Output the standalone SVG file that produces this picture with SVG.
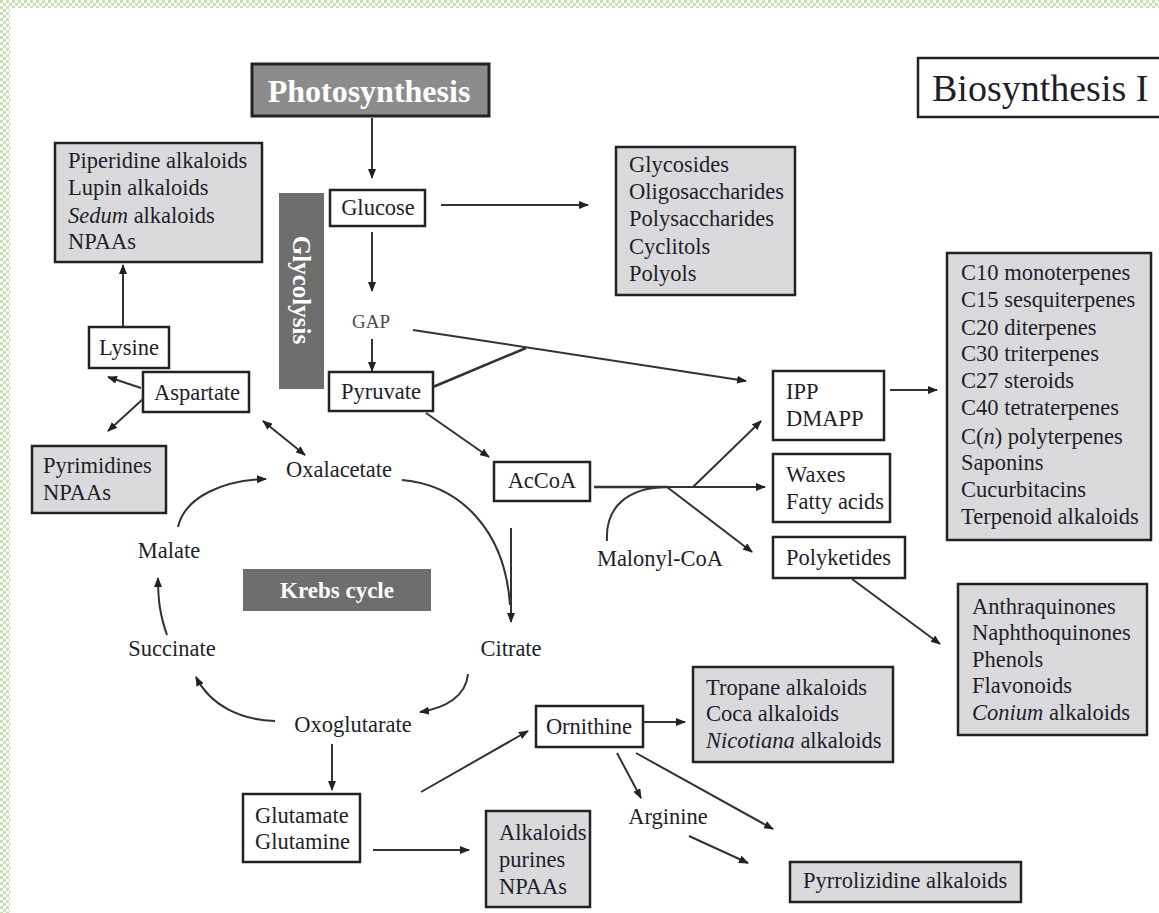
<svg xmlns="http://www.w3.org/2000/svg" width="1159" height="913" viewBox="0 0 1159 913">
<defs>
<pattern id="chk" width="6" height="6" patternUnits="userSpaceOnUse">
<rect width="6" height="6" fill="#ffffff"/>
<rect width="3" height="3" fill="#c8e2b3"/>
<rect x="3" y="3" width="3" height="3" fill="#c8e2b3"/>
</pattern>
<marker id="ah" viewBox="0 0 10 8" refX="9" refY="4" markerWidth="10" markerHeight="8" markerUnits="userSpaceOnUse" orient="auto">
<path d="M0,0 L10,4 L0,8 z" fill="#222"/>
</marker>
<marker id="as" viewBox="0 0 10 8" refX="1" refY="4" markerWidth="10" markerHeight="8" markerUnits="userSpaceOnUse" orient="auto">
<path d="M10,0 L0,4 L10,8 z" fill="#222"/>
</marker>
</defs>
<style>
.t{font-family:"Liberation Serif","Times New Roman",serif;font-size:22.5px;fill:#1e1e2a}
.s{font-family:"Liberation Serif","Times New Roman",serif;font-size:19px;fill:#4a4a5a}
.wb{font-family:"Liberation Serif","Times New Roman",serif;font-weight:bold;fill:#ffffff}
.g{fill:#dadadd;stroke:#222;stroke-width:2.5}
.w{fill:#ffffff;stroke:#222;stroke-width:2.5}
.d{fill:#6e6e6e}
.c line,.c path,.c polyline{stroke:#333;stroke-width:2;fill:none}
.a{marker-end:url(#ah)}
.i{font-style:italic}
</style>
<rect width="1159" height="913" fill="#ffffff"/>
<rect x="0" y="0" width="1159" height="8" fill="url(#chk)"/>
<rect x="0" y="0" width="10" height="913" fill="url(#chk)"/>

<g id="photosynthesis">
<rect x="252" y="64" width="237" height="52" fill="#8c8c8c" stroke="#222" stroke-width="3"/>
<text class="wb" x="369" y="102" font-size="32" text-anchor="middle">Photosynthesis</text>
</g>
<g id="biosynthesis">
<rect x="918" y="58" width="250" height="59" fill="#fff" stroke="#222" stroke-width="2.5"/>
<text class="t" x="932" y="101" style="font-size:38px">Biosynthesis I</text>
</g>
<g id="piperidine">
<rect class="g" x="55" y="143" width="207" height="119"/>
<text class="t" x="68" y="168">Piperidine alkaloids</text>
<text class="t" x="68" y="195">Lupin alkaloids</text>
<text class="t" x="68" y="223"><tspan class="i">Sedum</tspan> alkaloids</text>
<text class="t" x="68" y="249">NPAAs</text>
</g>
<g id="glycolysis">
<rect class="d" x="279" y="193" width="45" height="196"/>
<text class="wb" font-size="25" text-anchor="middle" transform="translate(293,290) rotate(90)">Glycolysis</text>
</g>
<g id="glucose">
<rect class="w" x="330" y="190" width="95" height="36"/>
<text class="t" x="378" y="215" text-anchor="middle">Glucose</text>
</g>
<g id="glycosides">
<rect class="g" x="616" y="147" width="179" height="148"/>
<text class="t" x="629" y="172">Glycosides</text>
<text class="t" x="629" y="199">Oligosaccharides</text>
<text class="t" x="629" y="226">Polysaccharides</text>
<text class="t" x="629" y="254">Cyclitols</text>
<text class="t" x="629" y="281">Polyols</text>
</g>
<g id="gap">
<text class="s" x="371" y="328" text-anchor="middle">GAP</text>
</g>
<g id="pyruvate">
<rect class="w" x="329" y="372" width="104" height="39"/>
<text class="t" x="381" y="399" text-anchor="middle">Pyruvate</text>
</g>
<g id="lysine">
<rect class="w" x="89" y="327" width="80" height="41"/>
<text class="t" x="129" y="355" text-anchor="middle">Lysine</text>
</g>
<g id="aspartate">
<rect class="w" x="143" y="372" width="106" height="40"/>
<text class="t" x="197" y="400" text-anchor="middle">Aspartate</text>
</g>
<g id="pyrimidines">
<rect class="g" x="32" y="446" width="134" height="67"/>
<text class="t" x="43" y="473">Pyrimidines</text>
<text class="t" x="43" y="500">NPAAs</text>
</g>
<g id="oxalacetate">
<text class="t" x="339" y="477" text-anchor="middle">Oxalacetate</text>
</g>
<g id="accoa">
<rect class="w" x="494" y="462" width="96" height="39"/>
<text class="t" x="542" y="488" text-anchor="middle">AcCoA</text>
</g>
<g id="malonyl">
<text class="t" x="660" y="566" text-anchor="middle">Malonyl-CoA</text>
</g>
<g id="ipp">
<rect class="w" x="773" y="371" width="111" height="69"/>
<text class="t" x="786" y="399">IPP</text>
<text class="t" x="786" y="426">DMAPP</text>
</g>
<g id="waxes">
<rect class="w" x="773" y="454" width="117" height="68"/>
<text class="t" x="786" y="482">Waxes</text>
<text class="t" x="786" y="509">Fatty acids</text>
</g>
<g id="polyketides">
<rect class="w" x="773" y="537" width="132" height="41"/>
<text class="t" x="786" y="565">Polyketides</text>
</g>
<g id="terpenes">
<rect class="g" x="947" y="253" width="204" height="287"/>
<text class="t" x="961" y="280">C10 monoterpenes</text>
<text class="t" x="961" y="307">C15 sesquiterpenes</text>
<text class="t" x="961" y="335">C20 diterpenes</text>
<text class="t" x="961" y="361">C30 triterpenes</text>
<text class="t" x="961" y="388">C27 steroids</text>
<text class="t" x="961" y="415">C40 tetraterpenes</text>
<text class="t" x="961" y="444">C(<tspan class="i">n</tspan>) polyterpenes</text>
<text class="t" x="961" y="470">Saponins</text>
<text class="t" x="961" y="497">Cucurbitacins</text>
<text class="t" x="961" y="524">Terpenoid alkaloids</text>
</g>
<g id="anthraquinones">
<rect class="g" x="958" y="584" width="189" height="151"/>
<text class="t" x="972" y="614">Anthraquinones</text>
<text class="t" x="972" y="640">Naphthoquinones</text>
<text class="t" x="972" y="667">Phenols</text>
<text class="t" x="972" y="693">Flavonoids</text>
<text class="t" x="972" y="720"><tspan class="i">Conium</tspan> alkaloids</text>
</g>
<g id="krebs">
<rect class="d" x="243" y="569" width="188" height="42"/>
<text class="wb" x="337" y="598" font-size="23" text-anchor="middle">Krebs cycle</text>
</g>
<g id="malate">
<text class="t" x="169" y="558" text-anchor="middle">Malate</text>
</g>
<g id="citrate">
<text class="t" x="511" y="656" text-anchor="middle">Citrate</text>
</g>
<g id="succinate">
<text class="t" x="172" y="656" text-anchor="middle">Succinate</text>
</g>
<g id="oxoglutarate">
<text class="t" x="353" y="732" text-anchor="middle">Oxoglutarate</text>
</g>
<g id="glutamate">
<rect class="w" x="243" y="794" width="117" height="68"/>
<text class="t" x="255" y="823">Glutamate</text>
<text class="t" x="255" y="849">Glutamine</text>
</g>
<g id="alkaloids">
<rect class="g" x="486" y="811" width="104" height="96"/>
<text class="t" x="499" y="840">Alkaloids</text>
<text class="t" x="499" y="867">purines</text>
<text class="t" x="499" y="894">NPAAs</text>
</g>
<g id="ornithine">
<rect class="w" x="536" y="706" width="107" height="41"/>
<text class="t" x="589" y="734" text-anchor="middle">Ornithine</text>
</g>
<g id="tropane">
<rect class="g" x="693" y="667" width="200" height="95"/>
<text class="t" x="706" y="695">Tropane alkaloids</text>
<text class="t" x="706" y="721">Coca alkaloids</text>
<text class="t" x="706" y="748"><tspan class="i">Nicotiana</tspan> alkaloids</text>
</g>
<g id="arginine">
<text class="t" x="668" y="824" text-anchor="middle">Arginine</text>
</g>
<g id="pyrrolizidine">
<rect class="g" x="790" y="862" width="231" height="40"/>
<text class="t" x="803" y="888">Pyrrolizidine alkaloids</text>
</g>

<g id="connectors" class="c">
<line class="a" x1="372" y1="118" x2="372" y2="178"/>
<line class="a" x1="441" y1="205" x2="588" y2="205"/>
<line class="a" x1="372" y1="232" x2="372" y2="291"/>
<line class="a" x1="372" y1="339" x2="372" y2="371"/>
<line class="a" x1="413" y1="330" x2="746" y2="381"/>
<line x1="433" y1="387" x2="526" y2="348" style="stroke-width:2.5"/>
<line class="a" x1="123" y1="326" x2="123" y2="265"/>
<line class="a" x1="141" y1="388" x2="108" y2="377"/>
<line class="a" x1="143" y1="399" x2="108" y2="431"/>
<line class="a" x1="263" y1="421" x2="305" y2="455" style="marker-start:url(#as)"/>
<line class="a" x1="426" y1="413" x2="489" y2="457"/>
<line x1="594" y1="487" x2="668" y2="487" style="stroke-width:2.5"/>
<line class="a" x1="668" y1="487" x2="765" y2="487"/>
<line class="a" x1="693" y1="487" x2="761" y2="421"/>
<line class="a" x1="667" y1="487" x2="752" y2="552"/>
<path d="M607,541 C605,505 630,488 665,487"/>
<line class="a" x1="890" y1="390" x2="937" y2="390"/>
<line class="a" x1="852" y1="579" x2="940" y2="644"/>
<path class="a" d="M178,527 C185,496 225,480 266,479"/>
<path d="M402,480 C460,485 505,530 510,605"/>
<line class="a" x1="511" y1="528" x2="511" y2="622"/>
<path class="a" d="M468,674 C466,696 446,708 420,712"/>
<path class="a" d="M275,721 C240,720 210,705 196,677"/>
<path class="a" d="M167,635 C160,615 158,600 158,578"/>
<line class="a" x1="332" y1="744" x2="332" y2="790"/>
<line class="a" x1="373" y1="850" x2="469" y2="850"/>
<line class="a" x1="421" y1="792" x2="528" y2="731"/>
<line class="a" x1="643" y1="722" x2="685" y2="722"/>
<line class="a" x1="617" y1="753" x2="641" y2="798"/>
<line class="a" x1="636" y1="753" x2="773" y2="829"/>
<line class="a" x1="689" y1="836" x2="748" y2="863"/>
</g>
</svg>
